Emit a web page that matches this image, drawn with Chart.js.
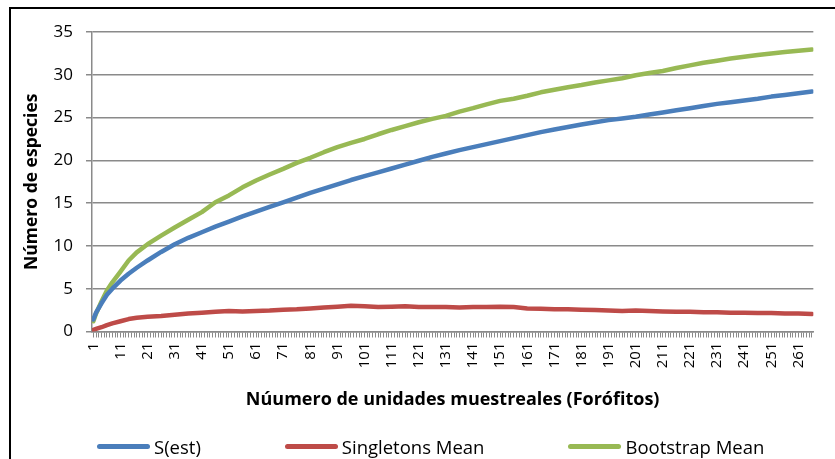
<!DOCTYPE html>
<html lang="es">
<head>
    <meta charset="UTF-8">
    <title>Curvas de acumulación de especies</title>
    <script src="https://cdn.jsdelivr.net/npm/chart.js"></script>
    <style>
        body {
            margin: 0;
            background-color: #ffffff;
            overflow: hidden;
            font-family: "Open Sans", sans-serif;
        }
        .wrap {
            position: relative;
            width: 835px;
            height: 459px;
            overflow: hidden;
        }
        .frame {
            position: absolute;
            left: 9px;
            top: 7px;
            width: 900px;
            height: 600px;
            border: 2px solid #000;
        }
        .legend {
            position: absolute;
            left: 97px;
            top: 434px;
            height: 24px;
            display: flex;
            align-items: center;
            gap: 84px;
            font-size: 18.5px;
            color: #000;
        }
        .legend-item {
            display: flex;
            align-items: center;
            gap: 4px;
        }
        .legend-line {
            display: inline-block;
            width: 53px;
            height: 5px;
            border-radius: 3px;
        }
    </style>
</head>
<body>
    <div class="wrap">
        <div class="frame"></div>
        <canvas id="mainChart"></canvas>
        <div class="legend" id="legend"></div>
    </div>

    <script>
        const SAMPLE_X = [1, 2, 4, 6, 8, 11, 14, 17, 21, 26, 31, 36, 41, 46, 51, 56, 61, 66, 71, 76,
            81, 86, 91, 96, 101, 106, 111, 116, 121, 126, 131, 136, 141, 146, 151, 156, 161, 166, 171, 176,
            181, 186, 191, 196, 201, 206, 211, 216, 221, 226, 231, 236, 241, 246, 251, 256, 261, 266];

        const S_EST = [1.4, 2.2, 3.3, 4.3, 5.0, 5.95, 6.75, 7.45, 8.3, 9.3, 10.2, 10.95, 11.6, 12.25, 12.85,
            13.45, 14.0, 14.55, 15.1, 15.65, 16.2, 16.7, 17.2, 17.7, 18.15, 18.6, 19.05, 19.5, 19.95, 20.4,
            20.8, 21.2, 21.55, 21.9, 22.25, 22.6, 22.95, 23.3, 23.6, 23.9, 24.2, 24.45, 24.7, 24.9, 25.1,
            25.35, 25.6, 25.85, 26.1, 26.35, 26.6, 26.8, 27.0, 27.2, 27.45, 27.65, 27.85, 28.05];

        const SINGLETONS = [0.2, 0.3, 0.5, 0.75, 0.95, 1.2, 1.45, 1.6, 1.72, 1.8, 1.95, 2.1, 2.2, 2.3, 2.4,
            2.35, 2.4, 2.45, 2.55, 2.6, 2.7, 2.8, 2.9, 3.0, 2.95, 2.85, 2.9, 2.95, 2.85, 2.85,
            2.85, 2.8, 2.85, 2.85, 2.9, 2.85, 2.7, 2.65, 2.6, 2.6, 2.55, 2.5, 2.45, 2.4, 2.45,
            2.4, 2.35, 2.3, 2.3, 2.25, 2.25, 2.2, 2.2, 2.15, 2.15, 2.1, 2.1, 2.05];

        const BOOTSTRAP = [1.2, 2.1, 3.5, 4.8, 5.75, 7.0, 8.3, 9.25, 10.2, 11.2, 12.15, 13.05, 13.95, 15.1, 15.9,
            16.85, 17.65, 18.35, 19.0, 19.7, 20.3, 20.95, 21.55, 22.05, 22.5, 23.05, 23.55, 24.0, 24.45, 24.85,
            25.2, 25.7, 26.1, 26.55, 26.95, 27.2, 27.55, 27.95, 28.25, 28.55, 28.8, 29.1, 29.35, 29.6, 29.95,
            30.2, 30.45, 30.8, 31.1, 31.4, 31.65, 31.9, 32.1, 32.3, 32.5, 32.65, 32.8, 32.95];

        const TICK_LABELS = [1, 11, 21, 31, 41, 51, 61, 71, 81, 91, 101, 111, 121, 131, 141, 151,
            161, 171, 181, 191, 201, 211, 221, 231, 241, 251, 261];

        const N_UNITS = 266;
        const CATEGORIES = Array.from({length: N_UNITS}, (_, i) => i + 1);

        const toPoints = values => SAMPLE_X.map((x, i) => ({x: x, y: values[i]}));

        const axisGray = '#8a8a8a';
        const fontFamily = '"Open Sans", sans-serif';

        const ctx = document.getElementById('mainChart').getContext('2d');
        const chart = new Chart(ctx, {
            type: 'line',
            data: {
                datasets: [
                    { label: 'S(est)', data: toPoints(S_EST), borderColor: '#4a7ebb' },
                    { label: 'Singletons Mean', data: toPoints(SINGLETONS), borderColor: '#be4b48' },
                    { label: 'Bootstrap Mean', data: toPoints(BOOTSTRAP), borderColor: '#98b954' }
                ]
            },
            options: {
                responsive: true,
                maintainAspectRatio: false,
                animation: false,
                layout: { padding: { left: 0, top: 32, right: 14, bottom: 0 } },
                elements: {
                    point: { radius: 0 },
                    line: { borderWidth: 4.5, borderCapStyle: 'round', borderJoinStyle: 'round', tension: 0 }
                },
                plugins: {
                    legend: { display: false },
                    tooltip: { enabled: false }
                },
                scales: {
                    x: {
                        type: 'linear',
                        min: 0.5,
                        max: N_UNITS + 0.5,
                        afterBuildTicks: scale => {
                            scale.ticks = CATEGORIES.map(v => ({ value: v }));
                        },
                        afterFit: scale => { scale.height = 127.5; },
                        grid: { drawOnChartArea: false, drawTicks: true, tickLength: 6, color: axisGray, lineWidth: 1 },
                        border: { color: axisGray, width: 1.5 },
                        ticks: {
                            autoSkip: false,
                            minRotation: 90,
                            maxRotation: 90,
                            padding: 5,
                            color: '#000',
                            font: { family: fontFamily, size: 15 },
                            callback: v => TICK_LABELS.includes(v) ? String(v) : ''
                        },
                        title: {
                            display: true,
                            text: 'Núumero de unidades muestreales (Forófitos)',
                            color: '#000',
                            font: { family: fontFamily, size: 18, weight: 'bold' },
                            padding: { top: 0, bottom: 48 }
                        }
                    },
                    y: {
                        min: 0,
                        max: 35,
                        afterFit: scale => { scale.width = 92; },
                        grid: { color: axisGray, lineWidth: 1.5, tickLength: 6 },
                        border: { color: axisGray, width: 1.5 },
                        ticks: {
                            stepSize: 5,
                            padding: 13,
                            color: '#000',
                            font: { family: fontFamily, size: 17 }
                        },
                        title: {
                            display: true,
                            text: 'Número de especies',
                            color: '#000',
                            font: { family: fontFamily, size: 17.5, weight: 'bold' },
                            padding: { top: 22, bottom: 0 }
                        }
                    }
                }
            }
        });

        // Leyenda en HTML a partir de los datasets
        document.getElementById('legend').innerHTML = chart.data.datasets.map(ds => `
            <div class="legend-item">
                <span class="legend-line" style="background:${ds.borderColor}"></span>
                <span>${ds.label}</span>
            </div>
        `).join('');
    </script>
</body>
</html>
